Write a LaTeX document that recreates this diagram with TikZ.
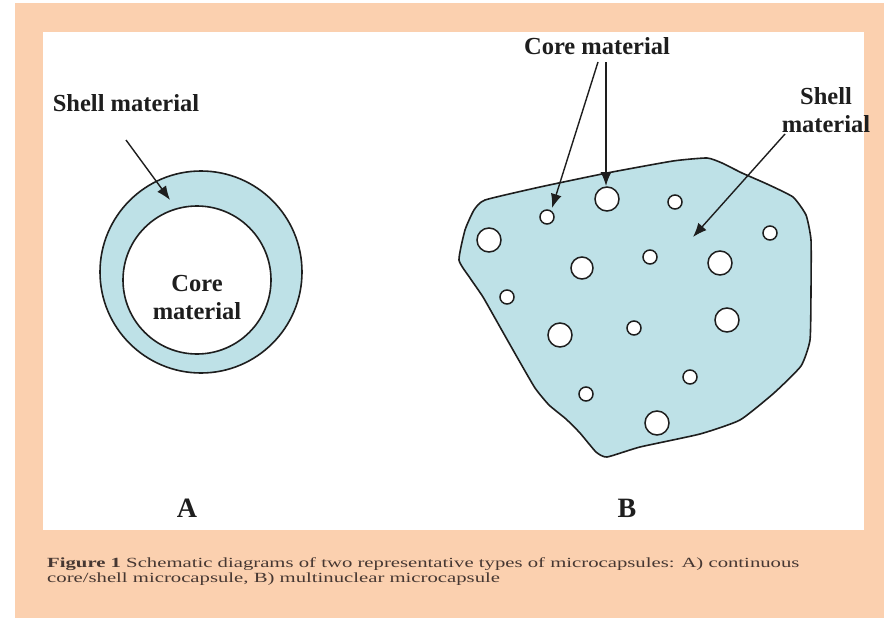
\documentclass[tikz,border=0pt]{standalone}
\usepackage{fontspec}
\setmainfont{Liberation Serif}
\usetikzlibrary{arrows.meta}
\definecolor{peach}{RGB}{251,208,175}
\definecolor{shellblue}{RGB}{190,225,231}
\definecolor{ink}{RGB}{30,30,30}
\definecolor{capink}{RGB}{70,55,50}
\begin{document}
\begin{tikzpicture}[x=1pt,y=-1pt,
  lbl/.style={font=\bfseries\fontsize{24.5}{28}\selectfont, text=ink, inner sep=0pt, align=center},
  letter/.style={font=\bfseries\fontsize{28}{30}\selectfont, text=ink, inner sep=0pt},
  arr/.style={draw=ink, line width=1.4pt, -{Latex[length=14pt,width=11pt]}},
  outl/.style={draw=ink, line width=1.6pt},
  bub/.style={circle, draw=ink, line width=1.5pt, fill=white, inner sep=0pt}]
\useasboundingbox (0,0) rectangle (884,621);
\fill[white] (0,0) rectangle (884,621);
\fill[peach] (15,3) rectangle (884,618);
\fill[white] (43,32) rectangle (864,530);

% ---- A : core/shell capsule
\node[circle, outl, fill=shellblue, minimum size=202pt, inner sep=0pt] (outer) at (201,272) {};
\node[circle, outl, fill=white, minimum size=148pt, inner sep=0pt] (inner) at (197,280) {};
\node[lbl] (coreA) at (197,298) {Core\\material};
\node[lbl] (shellA) at (126,103) {Shell material};
\coordinate (sAstart) at (126,140);
\coordinate (sAend) at (170,200);
\draw[arr] (sAstart) -- (sAend);
\node[letter] (labA) at (187,508) {A};

% ---- B : multinuclear capsule
\draw[outl, fill=shellblue] plot[smooth cycle, tension=0.3] coordinates {
 (485,200) (540,187) (607,173) (673,161) (707,158) (722,163) (742,173)
 (767,184) (793,197) (806,215) (811,240) (811,290) (810,340) (801,366)
 (774,393) (740,420) (700,434) (640,447) (607,457) (596,452) (580,433)
 (566,419) (549,405) (535,388) (517,357) (500,327) (483,297) (470,278)
 (459,260) (465,230) (474,210)};
\foreach \n/\x/\y/\r in {1/547/217/7, 2/607/199/12, 3/675/202/7, 4/489/240/12,
  5/770/233/7, 6/582/268/11, 7/650/257/7, 8/720/263/12, 9/507/297/7,
  10/560/335/12, 11/634/328/7, 12/727/320/12, 13/690/377/7, 14/586/394/7,
  15/657/423/12}
  \node[bub, minimum size=2*\r pt] (c\n) at (\x,\y) {};
\node[lbl] (coreB) at (597,46) {Core material};
\coordinate (cBs1) at (598,62);
\coordinate (cBs2) at (606,62);
\coordinate (cBe1) at (552,208);
\coordinate (cBe2) at (606,186);
\draw[arr] (cBs1) -- (cBe1);
\draw[arr] (cBs2) -- (cBe2);
\node[lbl] (shellB) at (826,110) {Shell\\material};
\coordinate (sBs) at (785,134);
\coordinate (sBe) at (693,237);
\draw[arr] (sBs) -- (sBe);
\node[letter] (labB) at (627,508) {B};

% ---- caption
\node[anchor=base west, inner sep=0pt, font=\fontsize{14}{15}\selectfont, text=capink, align=left] (cap) at (47,582)
 {\scalebox{1.48}[1]{\textbf{Figure 1} Schematic diagrams of two representative types of microcapsules: A) continuous}\\
  \scalebox{1.48}[1]{core/shell microcapsule, B) multinuclear microcapsule}};
\end{tikzpicture}
\end{document}
